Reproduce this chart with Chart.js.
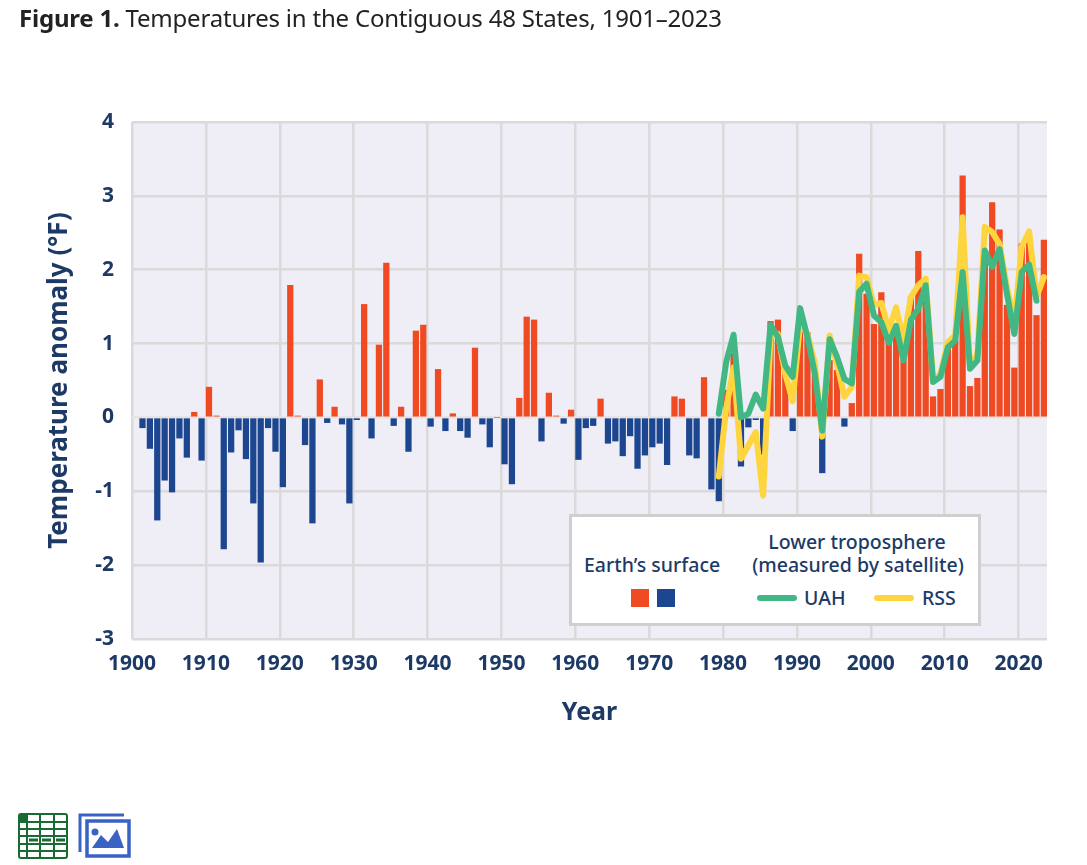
<!DOCTYPE html>
<html><head><meta charset="utf-8">
<script src="https://cdn.jsdelivr.net/npm/chart.js@4"></script>
<style>
html,body{margin:0;padding:0;background:#fff;width:1087px;height:865px;overflow:hidden;font-family:"Noto Sans",sans-serif}
#c{position:absolute;left:0;top:0}
#title{position:absolute;left:19px;top:3px;font-size:24px;line-height:30px;color:#222;white-space:nowrap;letter-spacing:-.21px}
#title b{font-weight:700}
#legend{position:absolute;left:569px;top:514px;width:406px;height:106px;background:#fff;border:3px solid #cfcfcf;color:#1d3a66;font-weight:500;font-size:19.5px;line-height:24px}
#legend div{position:absolute;white-space:nowrap}
.sw{width:18px;height:18px}
.ln{width:40px;height:6px;border-radius:3px}
#icons{position:absolute;left:0;top:800px}
</style></head><body>
<canvas id="c" width="1087" height="865"></canvas>
<div id="title"><b>Figure 1.</b> Temperatures in the Contiguous 48 States, 1901–2023</div>
<div id="legend">
 <div style="left:12px;top:36px">Earth’s surface</div>
 <div class="sw" style="left:59px;top:72px;background:#ef4a22"></div>
 <div class="sw" style="left:85px;top:72px;background:#1c468f"></div>
 <div style="left:167px;top:13px;width:236px;text-align:center">Lower troposphere</div>
 <div style="left:168px;top:36px;width:236px;text-align:center">(measured by satellite)</div>
 <div class="ln" style="left:185px;top:78px;background:#41b883"></div>
 <div style="left:232px;top:69px">UAH</div>
 <div class="ln" style="left:302px;top:78px;background:#ffd53f"></div>
 <div style="left:350px;top:69px">RSS</div>
</div>
<svg id="icons" width="150" height="65" viewBox="0 0 150 65">
 <g fill="none" stroke="#1a6b33" stroke-width="2">
  <rect x="19" y="14" width="48" height="44" rx="2"/>
  <path d="M19 22H67M19 29H67M19 36H67M19 44H67M19 51H67M27 14V58M40 14V58M54 14V58"/>
 </g>
 <rect x="19" y="14" width="8" height="8" fill="#1a6b33"/>
 <path d="M29 40H38M42 40H51M56 40H65" stroke="#1a6b33" stroke-width="3"/>
 <path d="M80 52V15H124" fill="none" stroke="#3a62c4" stroke-width="3"/>
 <rect x="87" y="21" width="42" height="35" fill="none" stroke="#3a62c4" stroke-width="3.5"/>
 <circle cx="95" cy="32" r="3.5" fill="#3a62c4"/>
 <path d="M92 48L101 35L108 42L117 29L124 48Z" fill="#3a62c4"/>
</svg>
<script>
const START_YEAR = 1901;
const YEAR_OFFSET = 0.42;
const surface = [
-0.14,-0.42,-1.39,-0.85,-1.01,-0.28,-0.54,0.07,-0.58,0.41,
0.02,-1.78,-0.47,-0.17,-0.56,-1.16,-1.96,-0.14,-0.46,-0.94,
1.79,0.02,-0.37,-1.43,0.51,-0.07,0.14,-0.09,-1.16,-0.03,
1.53,-0.28,0.98,2.09,-0.11,0.14,-0.46,1.17,1.25,-0.12,
0.65,-0.18,0.05,-0.18,-0.27,0.94,-0.09,-0.40,0.00,-0.63,
-0.90,0.26,1.36,1.32,-0.32,0.33,0.02,-0.08,0.10,-0.57,
-0.14,-0.11,0.25,-0.35,-0.32,-0.52,-0.25,-0.69,-0.51,-0.40,
-0.35,-0.64,0.28,0.25,-0.51,-0.55,0.54,-0.97,-1.13,0.37,
0.87,-0.66,-0.13,-0.03,-0.50,1.30,1.32,0.68,-0.18,1.20,
1.15,0.60,-0.75,0.77,0.64,-0.12,0.19,2.21,1.67,1.26,
1.69,1.02,1.22,0.77,1.63,2.25,1.67,0.28,0.38,0.95,
1.04,3.27,0.42,0.53,2.20,2.91,2.54,1.52,0.67,2.35,
2.40,1.38,2.40];
const SAT_START_YEAR = 1979;
const uah = [
0.05,0.75,1.12,0.00,0.05,0.31,0.12,1.25,1.09,0.70,
0.55,1.48,1.09,0.59,-0.18,1.06,0.82,0.52,0.46,1.70,
1.81,1.38,1.29,1.01,1.24,0.77,1.32,1.47,1.79,0.48,
0.55,0.95,1.04,1.97,0.66,0.77,2.26,2.04,2.28,1.67,
1.13,1.97,2.07,1.58];
const rss = [
-0.80,0.12,0.68,-0.56,-0.38,-0.20,-1.06,1.09,1.13,0.59,
0.22,1.27,1.13,0.73,-0.26,1.11,0.73,0.28,0.41,1.92,
1.90,1.52,1.55,1.18,1.49,1.04,1.63,1.79,1.88,0.50,
0.59,1.02,1.11,2.71,0.68,0.86,2.58,2.51,2.35,1.76,
1.31,2.31,2.52,1.63,1.90];
const xTickLabels = [1900,1910,1920,1930,1940,1950,1960,1970,1980,1990,2000,2010,2020];
const yTickStep = 1;

const toPts = (arr, y0) => arr.map((v,i)=>({x:y0+i+YEAR_OFFSET,y:v}));
const plotBg = {id:'plotBg',beforeDraw(ch){const a=ch.chartArea,c=ch.ctx;c.save();c.fillStyle='#efedf6';c.fillRect(a.left,a.top,a.right-a.left,a.bottom-a.top);c.restore();}};
const ink='#1d3a66';
new Chart(document.getElementById('c'),{
 type:'bar',
 data:{datasets:[
  {type:'line',label:'UAH',data:toPts(uah,SAT_START_YEAR),borderColor:'#41b883',borderWidth:6,pointRadius:0,tension:0,borderJoinStyle:'round',borderCapStyle:'round',order:1},
  {type:'line',label:'RSS',data:toPts(rss,SAT_START_YEAR),borderColor:'#ffd53f',borderWidth:6,pointRadius:0,tension:0,borderJoinStyle:'round',borderCapStyle:'round',order:2},
  {type:'bar',label:'Earth’s surface',data:toPts(surface,START_YEAR),barThickness:5.6,
   backgroundColor:c=>c.raw&&c.raw.y>=0?'#ef4a22':'#1c468f',order:3}
 ]},
 options:{
  responsive:false,animation:false,devicePixelRatio:1,
  layout:{padding:{left:44,right:40,top:122,bottom:137}},
  plugins:{legend:{display:false},tooltip:{enabled:false}},
  scales:{
   x:{type:'linear',min:1900,max:2023.84,offset:false,
      afterFit(s){s.height=89;s.paddingRight=0;s.paddingLeft=0;},
      afterBuildTicks(s){s.ticks=xTickLabels.map(v=>({value:v}));},
      border:{display:false},
      grid:{color:'#dbdada',lineWidth:2.5,offset:false,drawTicks:false},
      ticks:{autoSkip:false,maxRotation:0,padding:12,color:ink,font:{family:'"Noto Sans"',size:21,weight:'700'},
        callback:v=>String(v)},
      title:{display:true,text:'Year',color:ink,padding:{top:0,bottom:0},font:{family:'"Noto Sans"',size:25,weight:'700'}}},
   y:{min:-3,max:4,
      afterFit(s){s.width=88;},
      border:{display:false},
      grid:{color:c=>c.tick.value===0?'#e6e3e3':'#dbdada',lineWidth:2.5,drawTicks:false},
      ticks:{stepSize:yTickStep,padding:18,color:ink,font:{family:'"Noto Sans"',size:21,weight:'700'}},
      title:{display:true,text:'Temperature anomaly (°F)',color:ink,padding:{top:0,bottom:0},font:{family:'"Noto Sans"',size:26,weight:'700'}}}
  }
 },
 plugins:[plotBg]
});
</script>
</body></html>
